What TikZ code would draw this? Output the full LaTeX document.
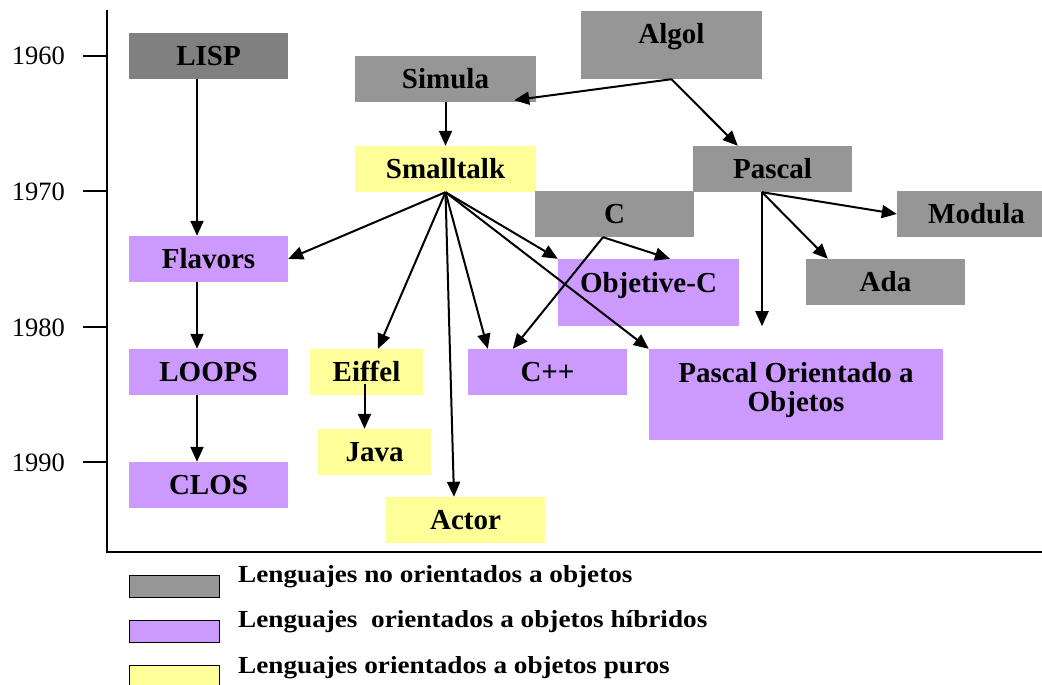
\documentclass[tikz,border=0pt]{standalone}
\usepackage{fontspec}
\setmainfont{Liberation Serif}
\newfontfamily\legfont{Liberation Serif}[FakeStretch=1.11]
\usetikzlibrary{arrows.meta,calc}
\definecolor{grisA}{HTML}{808080}
\definecolor{grisB}{HTML}{969696}
\definecolor{lila}{HTML}{CC99FF}
\definecolor{amarillo}{HTML}{FFFF99}
\begin{document}
\begin{tikzpicture}[x=1pt,y=-1pt,
  lang/.style={rectangle, inner sep=0pt, draw=none, text height=19pt, text depth=0pt,
    font=\fontsize{29}{29}\selectfont\bfseries, align=center},
  noobj/.style={lang, fill=grisB},
  hib/.style={lang, fill=lila},
  puro/.style={lang, fill=amarillo},
  wide/.style={minimum width=181pt, minimum height=46pt},
  std/.style={minimum width=159pt, minimum height=46pt},
  narrow/.style={minimum width=113pt, minimum height=46pt},
  arr/.style={line width=2pt, -{Triangle[length=15pt,width=13pt]}},
  axis/.style={line width=2pt},
  year/.style={anchor=base, font=\fontsize{26.5}{26.5}\selectfont},
  legbox/.style={rectangle, draw=black, line width=1.5pt, inner sep=0pt,
    minimum width=90pt, minimum height=22pt},
  legtext/.style={anchor=base west, inner sep=0pt, font={\legfont\fontsize{24.5}{24.5}\selectfont\bfseries}}]

\useasboundingbox (0,0) rectangle (1042,685);
\clip (0,0) rectangle (1042,685);

% time axis
\coordinate (axtop) at (107,10);
\coordinate (axo) at (107,552);
\coordinate (axr) at (1042,552);
\draw[axis] (axtop) -- (axo) -- (axr);
\foreach \yy/\yr in {56/1960,191/1970,327/1980,462/1990}{
  \coordinate (t\yr) at (83,\yy);
  \draw[axis] (t\yr) -- (t\yr -| axo);
  \node[year] (l\yr) at (38.5,{\yy+9}) {\yr};
}

% languages
\node[noobj, fill=grisA, std] (lisp) at (208.5,56) {LISP};
\node[noobj, wide] (simula) at (445.5,79) {Simula};
\node[noobj, minimum width=181pt, minimum height=68pt, text depth=21pt] (algol) at (671.5,45) {Algol};
\node[puro, wide] (smalltalk) at (445.5,169) {Smalltalk};
\node[noobj, std] (pascal) at (772.5,169) {Pascal};
\node[noobj, std] (c) at (614.5,214) {C};
\node[noobj, std] (modula) at (976.5,214) {Modula};
\node[noobj, std] (ada) at (885.5,282) {Ada};
\node[hib, minimum width=181pt, minimum height=67pt, text depth=20pt] (objc) at (648.5,292.5) {Objetive-C};
\node[hib, std] (flavors) at (208.5,259) {Flavors};
\node[hib, std] (loops) at (208.5,372) {LOOPS};
\node[hib, std] (clos) at (208.5,485) {CLOS};
\node[puro, narrow] (eiffel) at (366.5,372) {Eiffel};
\node[puro, narrow] (java) at (374.5,452) {Java};
\node[puro, std] (actor) at (465.5,520) {Actor};
\node[hib, std] (cpp) at (547.5,372) {C++};
\node[hib, minimum width=294pt, minimum height=91pt, text height=48pt, text depth=15pt] (poo) at (796,394.5) {Pascal Orientado a\\Objetos};

% LISP family
\draw[arr] ([xshift=-11.5pt]lisp.south) -- ([xshift=-11.5pt]flavors.north);
\draw[arr] ([xshift=-11.5pt]flavors.south) -- ([xshift=-11.5pt]loops.north);
\draw[arr] ([xshift=-11.5pt]loops.south) -- ([xshift=-11.5pt]clos.north);

% Algol family
\draw[arr] (algol.south) -- ([xshift=-22pt,yshift=2pt]simula.south east);
\draw[arr] (algol.south) -- ([xshift=45pt]pascal.north west);
\draw[arr] (simula.south) -- (smalltalk.north);

% Smalltalk influences
\coordinate (st) at (smalltalk.south);
\draw[arr] (st) -- (flavors.east);
\draw[arr] (st) -- ([xshift=11.5pt]eiffel.north);
\draw[arr] (st) -- ([xshift=-11.5pt]actor.north);
\draw[arr] (st) -- ([xshift=20pt]cpp.north west);
\draw[arr] (st) -- (objc.north west);
\draw[arr] (st) -- (poo.north west);

% C influences
\coordinate (cs) at ([xshift=-11.5pt]c.south);
\draw[arr] (cs) -- ([xshift=21.5pt]objc.north);
\draw[arr] (cs) -- ([xshift=45pt]cpp.north west);

% Pascal influences
\coordinate (ps) at ([xshift=-10.5pt]pascal.south);
\draw[arr] (ps) -- (modula.west);
\draw[arr] (ps) -- ([xshift=22pt]ada.north west);
\coordinate (pend) at ([yshift=-134pt]ps);
\draw[arr] (ps) -- (pend);

% Eiffel to Java
\coordinate (ej) at ([xshift=-2pt,yshift=11pt]eiffel.south);
\draw[arr] (ej) -- (ej |- java.north);

% legend
\node[legbox, fill=grisB] (lg1) at (174.5,586.5) {};
\node[legbox, fill=lila] (lg2) at (174.5,631.5) {};
\node[legbox, fill=amarillo] (lg3) at (174.5,676.5) {};
\node[legtext] (lt1) at (238,582) {Lenguajes no orientados a objetos};
\node[legtext] (lt2) at (238,627) {Lenguajes~ orientados a objetos híbridos};
\node[legtext] (lt3) at (238,673) {Lenguajes orientados a objetos puros};
\end{tikzpicture}
\end{document}
